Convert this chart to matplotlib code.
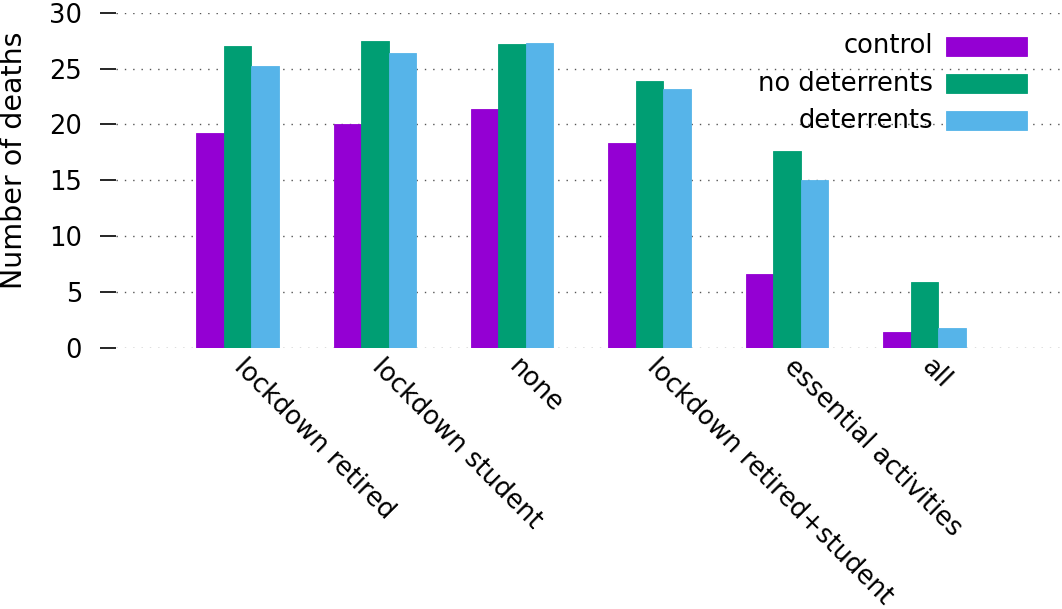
import matplotlib
matplotlib.use('Agg')
import matplotlib.pyplot as plt
import matplotlib.transforms as mtransforms
import numpy as np
from matplotlib.patches import Rectangle

# data
scenarios = ['lockdown retired', 'lockdown student', 'none',
             'lockdown retired+student', 'essential activities', 'all']
series = ['control', 'no deterrents', 'deterrents']
control = [19.2, 20.0, 21.4, 18.3, 6.6, 1.4]
no_deterrents = [27.0, 27.5, 27.2, 23.9, 17.6, 5.9]
deterrents = [25.2, 26.4, 27.3, 23.2, 15.0, 1.8]
colors = ['#9400d3', '#009e73', '#56b4e9']

plt.rcParams['font.family'] = ['DejaVu Sans']

W, H = 1062, 609
fig = plt.figure(figsize=(W / 100, H / 100), dpi=100)
ax = fig.add_axes([116 / W, 1 - 348 / H, 946 / W, 335.3 / H])

x = np.arange(len(scenarios))
w = 0.2
for i, (vals, c) in enumerate(zip([control, no_deterrents, deterrents], colors)):
    ax.bar(x + (i - 1) * w, vals, w, color=c, edgecolor=c, lw=0.6, zorder=2)

ax.set_xlim(-0.883, 6.0)
ax.set_ylim(0, 30)
ax.set_yticks(np.arange(0, 31, 5))
ax.tick_params(axis='y', direction='out', length=11.5, width=1.2, pad=13,
               labelsize=18.5, colors='black')
ax.set_xticks(x)
ax.set_xticklabels(scenarios, rotation=-45, ha='left', va='top',
                   rotation_mode='anchor', fontsize=18.5)
ax.tick_params(axis='x', length=0, pad=9)
# nudge the slanted labels so they start at the bar group like gnuplot does
shift = mtransforms.ScaledTranslation(0.10, 0.07, fig.dpi_scale_trans)
for lab in ax.get_xticklabels():
    lab.set_transform(lab.get_transform() + shift)

for s in ax.spines.values():
    s.set_visible(False)
ax.yaxis.grid(True, linestyle=(0, (1, 5)), color='#555555', lw=1.0, zorder=0)
ax.set_axisbelow(True)

ax.set_ylabel('Number of deaths', fontsize=20.5)
ax.yaxis.set_label_coords(-0.093, 0.561)

# gnuplot style key: right aligned text, colour box on the right
rows_y = [0.8998, 0.7883, 0.678]
for name, c, yy in zip(series, colors, rows_y):
    ax.text(0.8636, yy, name, transform=ax.transAxes, ha='right',
            va='center', fontsize=18.5)
    ax.add_patch(Rectangle((0.8774, yy - 0.0283), 0.0856, 0.0567,
                           transform=ax.transAxes, facecolor=c,
                           edgecolor=c, lw=0.6, clip_on=False, zorder=3))

fig.savefig('out.png', dpi=100)
